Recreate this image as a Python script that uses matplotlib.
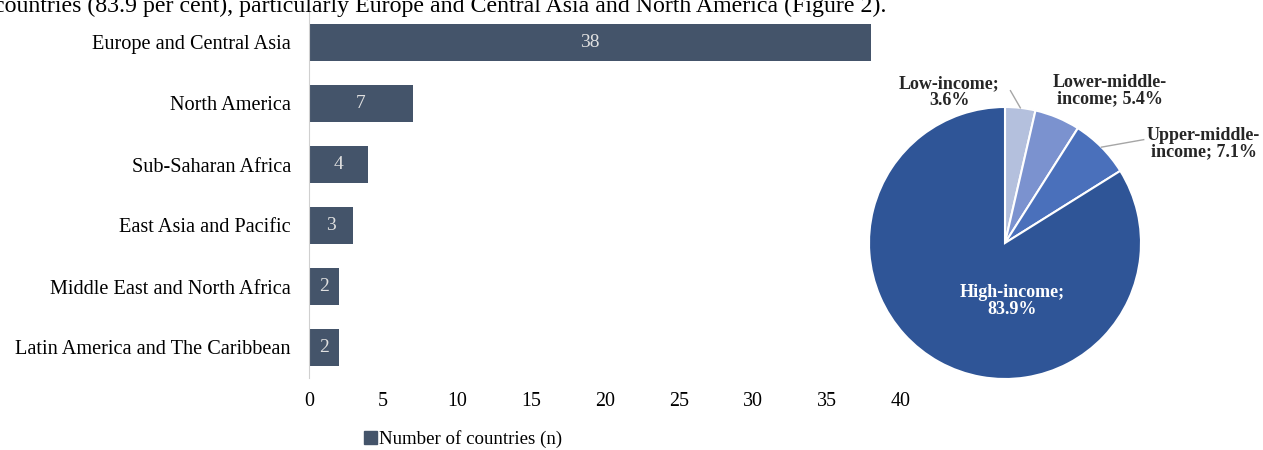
import numpy as np
import matplotlib
matplotlib.use("Agg")
import matplotlib.pyplot as plt
from matplotlib.patches import Patch

plt.rcParams['font.family'] = ['Liberation Serif', 'DejaVu Serif']

# Bar chart data (regions)
regions = ["Europe and Central Asia", "North America", "Sub-Saharan Africa",
           "East Asia and Pacific", "Middle East and North Africa",
           "Latin America and The Caribbean"]
countries = [38, 7, 4, 3, 2, 2]
xticks = [0, 5, 10, 15, 20, 25, 30, 35, 40]

# Pie chart data (income groups)
income_labels = ["Low-income;\n3.6%", "Lower-middle-\nincome; 5.4%",
                 "Upper-middle-\nincome; 7.1%", "High-income;\n83.9%"]
income_share = [3.6, 5.4, 7.1, 83.9]
income_colors = ["#b4c0dd", "#7b92cf", "#4a70bb", "#2f5597"]

W, H = 1263, 450
fig = plt.figure(figsize=(W / 100, H / 100), dpi=100)

def px_box(left, top, right, bottom):
    return [left / W, 1 - bottom / H, (right - left) / W, (bottom - top) / H]

# cut-off sentence from the page above the figure
fig.text(-6 / W, 1 - 12 / H,
         "countries (83.9 per cent), particularly Europe and Central Asia and North America (Figure 2).",
         fontsize=17.2, va='baseline', ha='left')

# ---- bar chart ----
ax = fig.add_axes(px_box(309, 12, 901, 378))
y = np.arange(len(regions))
bar_color = "#44546a"
ax.barh(y, countries, height=0.6, color=bar_color)
for yi, v in zip(y, countries):
    ax.text(v / 2, yi, str(v), ha='center', va='center', color='#e0e0e0', fontsize=14)
ax.set_yticks(y)
ax.set_yticklabels(regions, fontsize=14.6)
ax.set_ylim(len(regions) - 0.5, -0.5)
ax.set_xlim(0, 40)
ax.set_xticks(xticks)
ax.set_xticklabels([str(t) for t in xticks], fontsize=14.4)
ax.tick_params(length=0)
ax.tick_params(axis='x', pad=10)
ax.tick_params(axis='y', pad=13)
for s in ['top', 'right', 'bottom']:
    ax.spines[s].set_visible(False)
ax.spines['left'].set_color('#d0d0d0')

fig.legend(handles=[Patch(color=bar_color)], labels=["Number of countries (n)"],
           loc='center left', bbox_to_anchor=(364 / W, 1 - 439 / H), frameon=False,
           fontsize=13.6, handlelength=0.7, handleheight=0.7, handletextpad=0.1,
           borderpad=0, borderaxespad=0)

# ---- pie chart ----
pax = fig.add_axes(px_box(869, 107, 1141, 379))
wedges, _ = pax.pie(income_share, colors=income_colors, startangle=90, counterclock=False,
                    wedgeprops=dict(edgecolor='white', linewidth=1.5))
pax.set_xlim(-1, 1)
pax.set_ylim(-1, 1)
pax.set_aspect('equal')

# label positions in pie radius units
label_pos = [(-0.41, 1.11), (0.77, 1.12), (1.46, 0.73), (0.05, -0.43)]
label_color = ['#262626', '#262626', '#262626', 'white']
for w, lab, (lx, ly), c in zip(wedges, income_labels, label_pos, label_color):
    pax.text(lx, ly, lab, ha='center', va='center', fontsize=13,
             fontweight='bold', color=c, linespacing=1.0, clip_on=False)

# leader lines for small slices
for idx, (x0, y0) in [(0, (0.04, 1.12)), (2, (1.02, 0.76))]:
    w = wedges[idx]
    ang = np.deg2rad((w.theta1 + w.theta2) / 2)
    pax.plot([x0, np.cos(ang)], [y0, np.sin(ang)], color='#a6a6a6', lw=1, clip_on=False)

fig.savefig("out.png", dpi=100)
